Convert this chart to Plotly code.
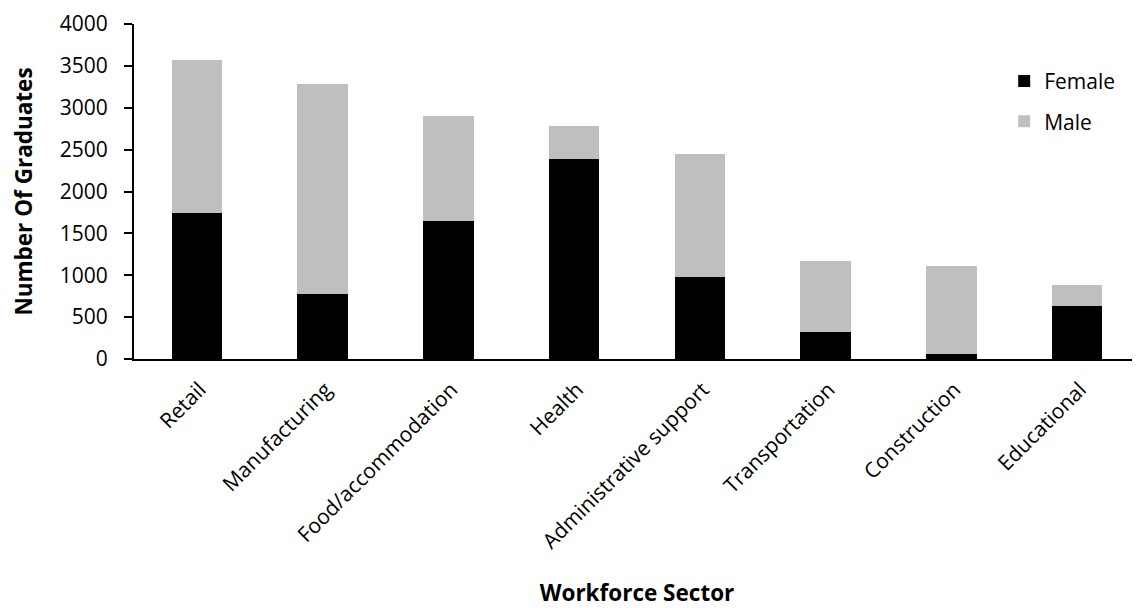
import plotly.graph_objects as go

sectors = ["Retail", "Manufacturing", "Food/accommodation", "Health",
           "Administrative support", "Transportation", "Construction", "Educational"]
female = [1740, 771, 1649, 2386, 984, 322, 63, 630]
male = [1830, 2512, 1256, 401, 1468, 847, 1043, 248]
y_ticks = [0, 500, 1000, 1500, 2000, 2500, 3000, 3500, 4000]

FONT = "Open Sans, Noto Sans, sans-serif"

fig = go.Figure()
fig.add_trace(go.Bar(x=sectors, y=female, name="Female", marker_color="#000000",
                     marker_line_width=0, legendgroup="f"))
fig.add_trace(go.Bar(x=sectors, y=male, name="Male", marker_color="#bfbfbf",
                     marker_line_width=0, legendgroup="m"))

fig.update_layout(
    width=1132, height=600,
    barmode="stack", bargap=0.6,
    plot_bgcolor="white", paper_bgcolor="white",
    margin=dict(l=126, r=0, t=16, b=249, autoexpand=False),
    font=dict(family=FONT, size=21, color="black"),
    showlegend=True,
    legend=dict(x=0.865, y=0.89, xanchor="left", yanchor="top", traceorder="grouped",
                tracegroupgap=10, font=dict(size=21), bgcolor="rgba(0,0,0,0)", itemwidth=30),
    xaxis=dict(
        title=dict(text="<b>Workforce Sector</b>", font=dict(size=22.5), standoff=48),
        tickangle=-45, showline=True, linecolor="black", linewidth=2,
        ticks="", showgrid=False, tickfont=dict(size=21), automargin=False,
        ticklabelstandoff=8, ticklabelshift=3,
    ),
    yaxis=dict(
        title=dict(text="<b>Number Of Graduates</b>", font=dict(size=22.5), standoff=25),
        range=[0, 4000], tickvals=y_ticks, showline=True, linecolor="black", linewidth=2,
        ticks="outside", ticklen=8, tickcolor="black", tickwidth=2,
        showgrid=False, zeroline=False, tickfont=dict(size=21), automargin=False,
        ticklabelstandoff=12, ticklabeloverflow="allow",
    ),
)

fig.write_html("out.html")
